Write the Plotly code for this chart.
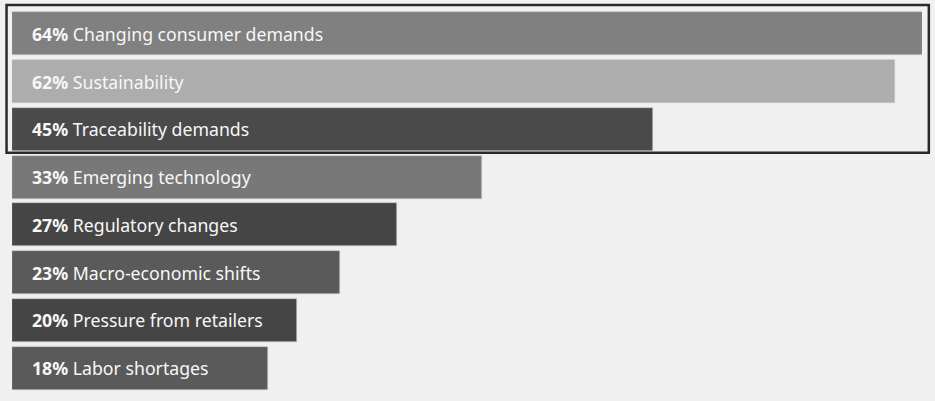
import plotly.graph_objects as go

categories = [
    "Changing consumer demands",
    "Sustainability",
    "Traceability demands",
    "Emerging technology",
    "Regulatory changes",
    "Macro-economic shifts",
    "Pressure from retailers",
    "Labor shortages",
]
values = [64, 62, 45, 33, 27, 23, 20, 18]
colors = ["#808080", "#adadad", "#4a4a4a", "#787878", "#454545", "#5a5a5a", "#454545", "#5a5a5a"]

fig = go.Figure()
fig.add_trace(go.Bar(
    x=values,
    y=categories,
    orientation="h",
    width=0.9,
    marker=dict(color=colors, line=dict(color="#c8c8c8", width=0.6)),
    hoverinfo="skip",
))

for cat, val in zip(categories, values):
    fig.add_annotation(
        x=0, y=cat, xref="x", yref="y",
        text=f"<b>{val}%</b> {cat}",
        showarrow=False, xanchor="left", yanchor="middle", xshift=18,
        font=dict(family="Noto Sans", size=17.7, color="#f7f7f7"),
    )

# highlight box around top three
fig.add_shape(
    type="rect", xref="paper", yref="paper",
    x0=-0.006, x1=1.0075, y0=0.626, y1=1.013,
    line=dict(color="#2a2a2a", width=2.5),
    fillcolor="rgba(0,0,0,0)",
)

fig.update_layout(
    width=935, height=401,
    margin=dict(l=12, r=13, t=10, b=9),
    paper_bgcolor="#f0f0f0",
    plot_bgcolor="#f0f0f0",
    showlegend=False,
    bargap=0,
    xaxis=dict(range=[0, 63.9], visible=False, fixedrange=True),
    yaxis=dict(autorange=False, range=[7.5, -0.5], visible=False, fixedrange=True,
               categoryorder="array", categoryarray=categories),
)

fig.write_html("out.html", config={"displayModeBar": False},
               post_script="document.body.style.margin='0';document.body.style.background='#f0f0f0';")
